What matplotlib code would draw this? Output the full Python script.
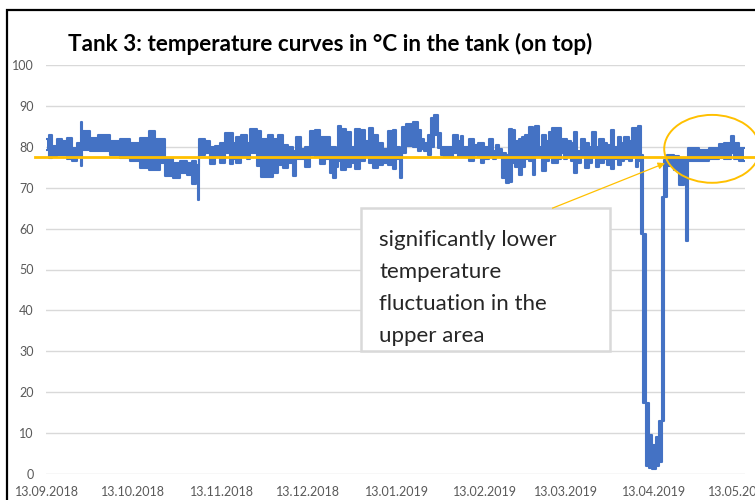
import numpy as np
import matplotlib
matplotlib.use('Agg')
import matplotlib.pyplot as plt
import matplotlib.dates as mdates
import matplotlib.transforms as mtransforms
from matplotlib.patches import Ellipse, Rectangle

# days since 13.09.2018 where a reading block starts, with its upper and lower temperature
seg_day = [0.0, 0.8, 1.6, 3.4, 5.1, 6.9, 8.6, 10.3, 11.7, 12.3, 15.0, 17.9, 22.0, 25.4, 28.9,
           32.4, 35.6, 37.6, 39.4, 41.1, 44.0,
           46.3, 48.7, 50.4, 51.9, 52.7, 53.1, 55.0, 56.8, 58.5, 60.3, 62.0, 63.8, 64.9, 65.9,
           67.8, 69.6, 70.7, 73.1, 74.8, 77.1, 78.9, 80.6, 82.4, 84.1, 85.8, 87.0, 88.7, 89.9,
           91.6, 93.4,
           95.1, 96.9, 98.6, 99.8, 101.0, 101.5, 102.7, 104.4, 106.2, 107.3, 109.1, 110.8, 112.5,
           113.7, 115.5, 117.2, 119.0, 120.7, 121.9, 123.0, 124.0, 125.3, 127.6, 129.4, 130.6,
           131.7, 132.9, 134.1, 135.2, 136.4, 137.6, 138.7, 141.1, 141.6, 143.3,
           144.5, 145.1, 147.4, 149.1, 150.3, 151.5, 152.6, 154.4, 155.5, 156.7, 157.8, 158.8,
           160.0, 161.1, 162.3, 163.4, 164.6, 165.8, 166.9, 168.3, 169.5, 170.4, 171.6, 172.7,
           174.1, 175.3, 176.4, 178.2, 179.3, 180.5, 181.6, 182.8, 184.0, 185.1, 186.3, 187.8,
           189.2, 190.1, 191.5,
           192.7, 194.4, 195.6, 196.8, 197.9, 199.1, 200.3, 201.4, 203.1, 204.3, 205.5, 206.4,
           207.2, 207.9, 209.0, 210.1, 211.1, 212.5, 213.6, 214.6, 215.3, 216.4, 218.8, 220.6,
           222.3, 223.0, 223.7, 227.5, 231.0, 234.5, 236.2, 238.7, 239.7, 241.5]
seg_hi = [81.8, 83.0, 80.2, 82.0, 81.4, 82.2, 79.8, 81.0, 86.0, 83.9, 82.2, 82.8, 81.4, 81.8, 81.0,
          82.2, 83.9, 81.8, 82.0, 76.9, 76.0,
          76.5, 76.0, 76.5, 75.5, 75.0, 82.0, 81.5, 80.0, 80.3, 81.0, 83.4, 83.4, 81.0, 82.5,
          83.0, 81.0, 84.4, 83.8, 82.0, 83.0, 82.0, 83.0, 80.5, 80.0, 79.0, 82.3, 79.5, 80.0,
          83.9, 84.0,
          82.5, 82.5, 80.0, 80.0, 77.5, 85.2, 84.3, 83.5, 80.0, 84.3, 84.0, 81.4, 84.5,
          83.0, 81.0, 79.5, 83.9, 84.0, 80.0, 77.5, 84.9, 85.5, 86.1, 84.0, 82.0,
          81.0, 83.0, 87.1, 87.7, 83.4, 80.0, 80.0, 80.0, 83.0, 81.5,
          82.6, 80.0, 82.0, 80.5, 81.0, 81.0, 80.0, 82.0, 79.0, 80.5, 79.5, 78.5,
          78.0, 84.3, 84.0, 81.5, 82.0, 82.5, 83.0, 84.9, 80.0, 85.1, 80.0, 83.0,
          81.5, 83.5, 84.5, 84.5, 82.0, 82.0, 81.5, 81.0, 83.5, 79.0, 81.8, 81.0,
          80.0, 83.5, 80.0,
          82.0, 81.0, 80.5, 84.0, 80.0, 82.5, 81.0, 82.5, 81.5, 84.5, 84.7, 85.0,
          78.0, 58.8, 17.3, 9.5, 7.0, 9.0, 13.0, 67.8, 76.8, 78.1, 77.7, 77.3,
          77.3, 77.0, 79.8, 79.3, 79.8, 80.6, 81.0, 82.6, 81.0, 79.8]
seg_lo = [79.3, 77.3, 77.7, 77.9, 78.0, 76.9, 76.5, 77.5, 75.4, 79.3, 78.9, 78.9, 78.1, 77.3, 76.5,
          74.8, 74.4, 74.4, 76.0, 72.8, 72.4,
          73.5, 73.0, 70.8, 72.5, 66.9, 78.0, 78.5, 75.7, 77.5, 76.0, 78.5, 75.7, 77.0, 76.0,
          77.5, 77.0, 78.5, 75.4, 72.5, 72.6, 73.6, 75.5, 74.8, 76.0, 72.8, 77.0, 77.0, 75.0,
          78.0, 77.5,
          75.7, 76.9, 73.6, 72.4, 75.0, 76.5, 74.4, 75.0, 76.0, 74.5, 76.5, 77.5, 76.0,
          74.8, 75.5, 76.0, 75.5, 74.5, 77.0, 72.4, 78.5, 80.2, 80.0, 79.0, 79.5,
          78.9, 78.0, 80.0, 83.0, 79.8, 78.0, 77.5, 77.5, 78.5, 77.5,
          78.1, 77.5, 76.5, 78.0, 77.5, 76.0, 77.0, 77.5, 77.0, 77.5, 77.5, 72.4,
          71.1, 71.5, 76.0, 75.0, 73.2, 75.0, 77.0, 76.5, 73.2, 77.5, 77.5, 74.0,
          76.5, 77.5, 76.0, 77.0, 78.5, 77.0, 77.5, 76.5, 73.6, 76.0, 77.5, 74.8,
          76.0, 77.5, 75.0,
          76.0, 77.0, 75.5, 74.5, 77.0, 75.5, 76.5, 77.0, 76.5, 77.5, 75.0, 76.5,
          58.8, 17.3, 2.0, 1.5, 1.2, 2.0, 3.0, 13.0, 67.8, 75.2, 74.4, 70.7,
          72.4, 57.0, 76.5, 76.5, 76.9, 77.3, 76.9, 78.5, 76.9, 76.5]
end_day = 243.2

mean_level = 77.5

tick_dates = ['2018-09-13', '2018-10-13', '2018-11-13', '2018-12-13', '2019-01-13',
              '2019-02-13', '2019-03-13', '2019-04-13', '2019-05-13']
tick_labels = ['13.09.2018', '13.10.2018', '13.11.2018', '13.12.2018', '13.01.2019',
               '13.02.2019', '13.03.2019', '13.04.2019', '13.05.2019']

BLUE = '#4472C4'
GOLD = '#FFC000'

plt.rcParams['font.family'] = ['Lato', 'DejaVu Sans']

fig = plt.figure(figsize=(7.55, 5.0), dpi=100)
ax = fig.add_axes([46/755, 26/500, 699/755, 409/500])

start = mdates.date2num(np.datetime64('2018-09-13'))
x = start + np.append(seg_day, end_day)
hi = np.append(seg_hi, seg_hi[-1])
lo = np.append(seg_lo, seg_lo[-1])

ax.fill_between(x, lo, hi, step='post', color=BLUE, lw=0, zorder=3)
ax.step(x, hi, where='post', color=BLUE, lw=1.5, zorder=3)
ax.step(x, lo, where='post', color=BLUE, lw=1.5, zorder=3)

# horizontal reference line, runs past the plot area like in the original
trans = mtransforms.blended_transform_factory(ax.transAxes, ax.transData)
ax.plot([-0.016, 1.03], [mean_level, mean_level], transform=trans, color=GOLD, lw=2.0,
        clip_on=False, zorder=5)

ax.set_ylim(0, 100)
ax.set_yticks(range(0, 101, 10))
ax.set_xlim(start - 0.4, start + 243.6)
ax.set_xticks([mdates.date2num(np.datetime64(d)) for d in tick_dates], tick_labels)
ax.grid(axis='y', color='#d9d9d9', lw=1)
ax.set_axisbelow(True)
for s in ax.spines.values():
    s.set_visible(False)
ax.tick_params(axis='both', length=0, labelsize=9, colors='#595959')
ax.tick_params(axis='y', pad=9)
ax.tick_params(axis='x', pad=9)

# circle around the calm part
ax.add_patch(Ellipse((start + 232.1, 79.5), 33.4, 16.6, fill=False, ec=GOLD, lw=1.4,
                     clip_on=False, zorder=6))

# comment box
ax.add_patch(Rectangle((start + 109.4, 30.1), 87.1, 34.9, fc='white', ec='#d9d9d9', lw=1.8,
                       zorder=6))
ax.text(start + 116.0, 59.6, 'significantly lower\ntemperature\nfluctuation in the\nupper area',
        ha='left', va='top', fontsize=16, linespacing=1.75, color='#262626', zorder=7)
ax.annotate('', xy=(start + 215.7, 76.0), xytext=(start + 176.4, 65.0),
            arrowprops=dict(arrowstyle='-|>', color=GOLD, lw=0.9, mutation_scale=10,
                            shrinkA=0, shrinkB=0), zorder=7)

fig.text(330/755, 456/500, 'Tank 3: temperature curves in \u00b0C in the tank (on top)',
         ha='center', va='center', fontsize=16.2, fontweight='bold', color='black')

# outer frame (cut off at right and bottom)
fig.patches.append(Rectangle((7/755, -0.1), 1.2, 490/500 + 0.1, transform=fig.transFigure,
                             fill=False, ec='black', lw=1.6))

fig.savefig('out.png', dpi=100)
